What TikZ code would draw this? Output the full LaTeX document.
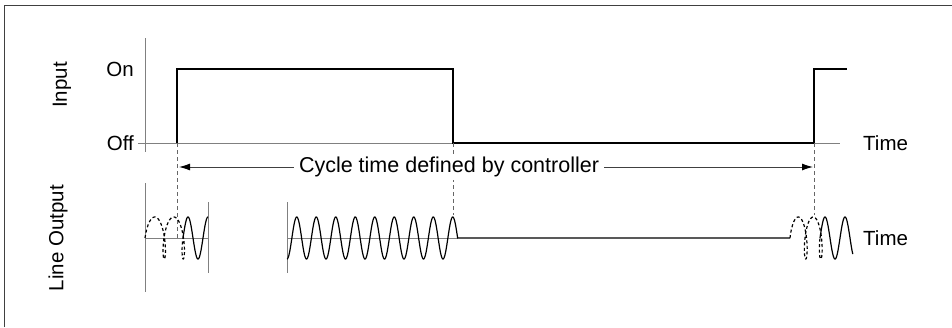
\documentclass[tikz,border=0pt]{standalone}
\usepackage{fontspec}
\setmainfont{Liberation Sans}
\usetikzlibrary{arrows.meta, positioning, calc}

\begin{document}
\begin{tikzpicture}[x=1pt, y=-1pt,
    axisline/.style={draw=gray, line width=0.9pt},
    guide/.style={draw=gray!80!black, dash pattern=on 4pt off 3pt, line width=0.9pt},
    sig/.style={draw=black, line width=2.3pt},
    wave/.style={draw=black, line width=1.2pt},
    ghost/.style={wave, dash pattern=on 3pt off 2.5pt},
    lbl/.style={font=\fontsize{20.5}{24}\selectfont, inner sep=0pt}]

    \useasboundingbox (0,0) rectangle (952,327);
    % frame
    \draw[black!75, line width=1pt] (4,327) -- (4,5) -- (952,5);

    % Input axes
    \coordinate (inTop) at (145,38);
    \coordinate (inBot) at (145,152);
    \coordinate (offL) at (138,143);
    \coordinate (offR) at (840,143);
    \draw[axisline] (inTop) -- (inBot);
    \draw[axisline] (offL) -- (offR);

    \node[lbl, rotate=90] (input) at (62,85) {Input};
    \node[lbl, anchor=east] (on) at (134,69) {On};
    \node[lbl, anchor=east] (off) at (134,143) {Off};
    \node[lbl, anchor=west] (timeIn) at (863,143) {Time};

    % Input signal
    \coordinate (rise1) at (177,143);
    \coordinate (fall1) at (453,143);
    \coordinate (rise2) at (814,143);
    \draw[sig] (rise1) -- (rise1 |- on) -- (fall1 |- on) -- (fall1) -- (rise2) -- (rise2 |- on) -- ++(33,0);

    % Guides
    \coordinate (guide1) at (177,238);
    \coordinate (guide2) at (453,215);
    \coordinate (guide3) at (814,215);
    \draw[guide] (rise1) -- (guide1);
    \draw[guide] (fall1) -- (guide2);
    \draw[guide] (rise2) -- (guide3);

    % Cycle arrow
    \coordinate (cycL) at (177,167);
    \coordinate (cycR) at (814,167);
    \draw[gray!50!black, line width=0.9pt, {Latex[length=11pt,width=7pt,black]}-{Latex[length=11pt,width=7pt,black]}, shorten <=2pt, shorten >=1pt] (cycL) -- (cycR);
    \node[lbl, font=\fontsize{21.5}{24}\selectfont, fill=white, inner xsep=5pt, inner ysep=3pt] (cycle) at (449,167) {Cycle time defined by controller};

    % Output axes
    \coordinate (outTop) at (145,183);
    \coordinate (outBot) at (145,292);
    \draw[axisline] (outTop) -- (outBot);
    \node[lbl, rotate=90] (lineout) at (58,238) {Line Output};
    \node[lbl, anchor=west] (timeOut) at (863,238) {Time};

    \coordinate (b1L) at (145,238);
    \coordinate (b1R) at (208,238);
    \coordinate (b2L) at (287,238);
    \coordinate (b2R) at (458,238);
    \coordinate (b3L) at (790,238);
    \draw[axisline] (b1L) -- (b1R);
    \draw[axisline] (b2L) -- (b2R);
    \draw[axisline] (208,202) -- (208,273);
    \draw[axisline] (287,202) -- (287,273);

    % Burst 1
    \draw[ghost] plot[domain=0:720, samples=140, variable=\t] ({145 + \t/360*19 + 5*(1-cos(\t))}, {238 - 21*sin(\t)});
    \draw[wave] plot[domain=0:450, samples=80, variable=\t] ({183 + \t/360*20}, {238 - 21*sin(\t)});

    % Burst 2 and idle line
    \draw[wave] plot[domain=0:3150, samples=420, variable=\t] ({287 + \t/360*19.5}, {238 + 21*cos(\t)}) -- (b3L);

    % Burst 3
    \draw[ghost] plot[domain=0:720, samples=140, variable=\t] ({790 + \t/360*15 + 4.5*(1-cos(\t))}, {238 - 21*sin(\t)});
    \draw[wave] plot[domain=0:590, samples=100, variable=\t] ({820 + \t/360*20}, {238 - 21*sin(\t)});
\end{tikzpicture}
\end{document}
